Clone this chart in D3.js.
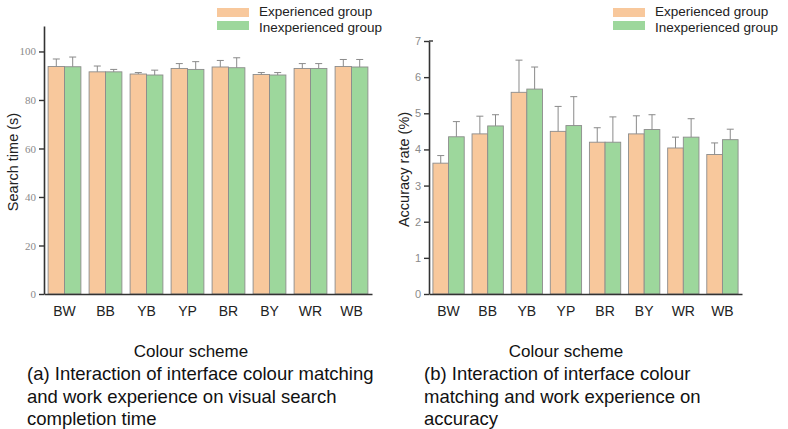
<!DOCTYPE html>
<html>
<head>
<meta charset="utf-8">
<script src="https://cdn.jsdelivr.net/npm/d3@7"></script>
<style>
  html, body { margin: 0; padding: 0; background: #fff; }
  svg { display: block; font-family: "Liberation Sans", Arial, sans-serif; }
</style>
</head>
<body>
<svg id="chart" width="788" height="429"></svg>
<script>
// Colour schemes on the x axis
const categories = ["BW", "BB", "YB", "YP", "BR", "BY", "WR", "WB"];
const groups = ["Experienced group", "Inexperienced group"];

// (a) visual search completion time, seconds (mean and SD)
const timeExperienced = [93.8, 91.6, 90.7, 93.0, 93.6, 90.5, 93.0, 93.8];
const timeExperiencedSD = [3.1, 2.4, 0.6, 2.0, 2.7, 0.8, 2.0, 2.9];
const timeInexperienced = [93.7, 91.6, 90.3, 92.6, 93.3, 90.3, 93.0, 93.6];
const timeInexperiencedSD = [4.0, 1.0, 2.0, 3.2, 4.1, 1.0, 2.0, 3.1];
const timeTicks = [0, 20, 40, 60, 80, 100];

// (b) accuracy rate, percent (mean and SD)
const accExperienced = [3.62, 4.43, 5.58, 4.50, 4.20, 4.43, 4.04, 3.86];
const accExperiencedSD = [0.21, 0.49, 0.89, 0.69, 0.40, 0.50, 0.30, 0.32];
const accInexperienced = [4.35, 4.65, 5.67, 4.66, 4.20, 4.55, 4.34, 4.27];
const accInexperiencedSD = [0.42, 0.31, 0.61, 0.80, 0.70, 0.41, 0.51, 0.29];
const accTicks = [0, 1, 2, 3, 4, 5, 6, 7];

const colors = ["#F8C89C", "#9DD79C"];
const svg = d3.select("#chart");

function drawPanel(opt) {
  const g = svg.append("g");
  const x = d3.scaleBand().domain(categories).range([opt.left, opt.right])
    .paddingInner(0.2).paddingOuter(0.1);
  const xs = d3.scaleBand().domain(groups).range([0, x.bandwidth()]);
  const y = d3.scaleLinear().domain(opt.domain).range([opt.bottom, opt.top]);

  const series = [
    { name: groups[0], vals: opt.a, sd: opt.aSD },
    { name: groups[1], vals: opt.b, sd: opt.bSD }
  ];

  series.forEach((s, si) => {
    const sg = g.append("g");
    categories.forEach((c, i) => {
      const x0 = x(c) + xs(s.name);
      const w = xs.bandwidth();
      sg.append("rect")
        .attr("x", x0).attr("y", y(s.vals[i]))
        .attr("width", w).attr("height", y(0) - y(s.vals[i]))
        .attr("fill", colors[si])
        .attr("stroke", "#8c8c8c").attr("stroke-width", 0.9);
      // upper error whisker with cap
      const cx = x0 + w / 2;
      const top = y(s.vals[i] + s.sd[i]);
      sg.append("line")
        .attr("x1", cx).attr("x2", cx)
        .attr("y1", y(s.vals[i])).attr("y2", top)
        .attr("stroke", "#8a8a8a").attr("stroke-width", 1);
      sg.append("line")
        .attr("x1", cx - 3.5).attr("x2", cx + 3.5)
        .attr("y1", top).attr("y2", top)
        .attr("stroke", "#8a8a8a").attr("stroke-width", 1);
    });
  });

  // y axis
  const yAxis = d3.axisLeft(y).tickValues(opt.ticks).tickFormat(d3.format("d"))
    .tickSize(5).tickSizeOuter(0).tickPadding(3);
  const ya = g.append("g").attr("transform", `translate(${opt.left},0)`).call(yAxis);
  ya.select(".domain").attr("stroke", "#333").attr("stroke-width", 1.6);
  ya.selectAll(".tick line").attr("stroke", "#333").attr("stroke-width", 1.4);
  ya.selectAll(".tick text")
    .attr("fill", "#8a8a8a")
    .style("font-family", opt.tickFont)
    .style("font-size", "11px");
  if (opt.topHook) {
    g.append("line")
      .attr("x1", opt.left).attr("x2", opt.left + 4)
      .attr("y1", y(opt.domain[1])).attr("y2", y(opt.domain[1]))
      .attr("stroke", "#333").attr("stroke-width", 1.4);
  }

  // x axis
  const xAxis = d3.axisBottom(x).tickSize(0).tickSizeOuter(0).tickPadding(12);
  const xa = g.append("g").attr("transform", `translate(0,${y(0)})`).call(xAxis);
  xa.select(".domain").attr("stroke", "#333").attr("stroke-width", 1.6);
  xa.selectAll(".tick text").attr("fill", "#222").style("font-size", "14px")
    .style("font-family", "'Liberation Sans', Arial, sans-serif");

  // axis titles
  g.append("text")
    .attr("transform", `translate(${opt.yTitleX},${(opt.top + opt.bottom) / 2 + 2}) rotate(-90)`)
    .attr("text-anchor", "middle").attr("dominant-baseline", "central")
    .style("font-size", "14.5px").attr("fill", "#222")
    .text(opt.yTitle);
  g.append("text")
    .attr("x", opt.xTitleX).attr("y", 357)
    .attr("text-anchor", "middle")
    .style("font-size", "17px").attr("fill", "#111")
    .text("Colour scheme");

  // caption
  const cap = g.append("text").attr("x", opt.capX).attr("y", 380)
    .style("font-size", "18.5px").attr("fill", "#111");
  opt.caption.forEach((line, i) => {
    cap.append("tspan").attr("x", opt.capX).attr("dy", i === 0 ? 0 : 22.5).text(line);
  });

  // legend
  const lg = g.append("g");
  groups.forEach((name, i) => {
    lg.append("rect")
      .attr("x", opt.legX).attr("y", 8 + i * 13)
      .attr("width", 32).attr("height", 9)
      .attr("fill", colors[i]);
    lg.append("text")
      .attr("x", opt.legX + 42).attr("y", 16 + i * 15.5)
      .style("font-size", "13.5px").attr("fill", "#222")
      .text(name);
  });
}

drawPanel({
  left: 44, right: 372, top: 26, bottom: 294,
  domain: [0, 110.5], ticks: timeTicks,
  a: timeExperienced, aSD: timeExperiencedSD,
  b: timeInexperienced, bSD: timeInexperiencedSD,
  tickFont: "'Liberation Serif', 'DejaVu Serif', serif",
  yTitle: "Search time (s)", yTitleX: 13,
  xTitleX: 191, capX: 27, legX: 217,
  caption: ["(a) Interaction of interface colour matching",
            "and work experience on visual search",
            "completion time"]
});

drawPanel({
  left: 429, right: 742, top: 41, bottom: 294,
  domain: [0, 7], ticks: accTicks,
  a: accExperienced, aSD: accExperiencedSD,
  b: accInexperienced, bSD: accInexperiencedSD,
  tickFont: "'Liberation Sans', Arial, sans-serif",
  yTitle: "Accuracy rate (%)", yTitleX: 404,
  xTitleX: 566, capX: 424, legX: 613, topHook: true,
  caption: ["(b) Interaction of interface colour",
            "matching and work experience on",
            "accuracy"]
});
</script>
</body>
</html>
